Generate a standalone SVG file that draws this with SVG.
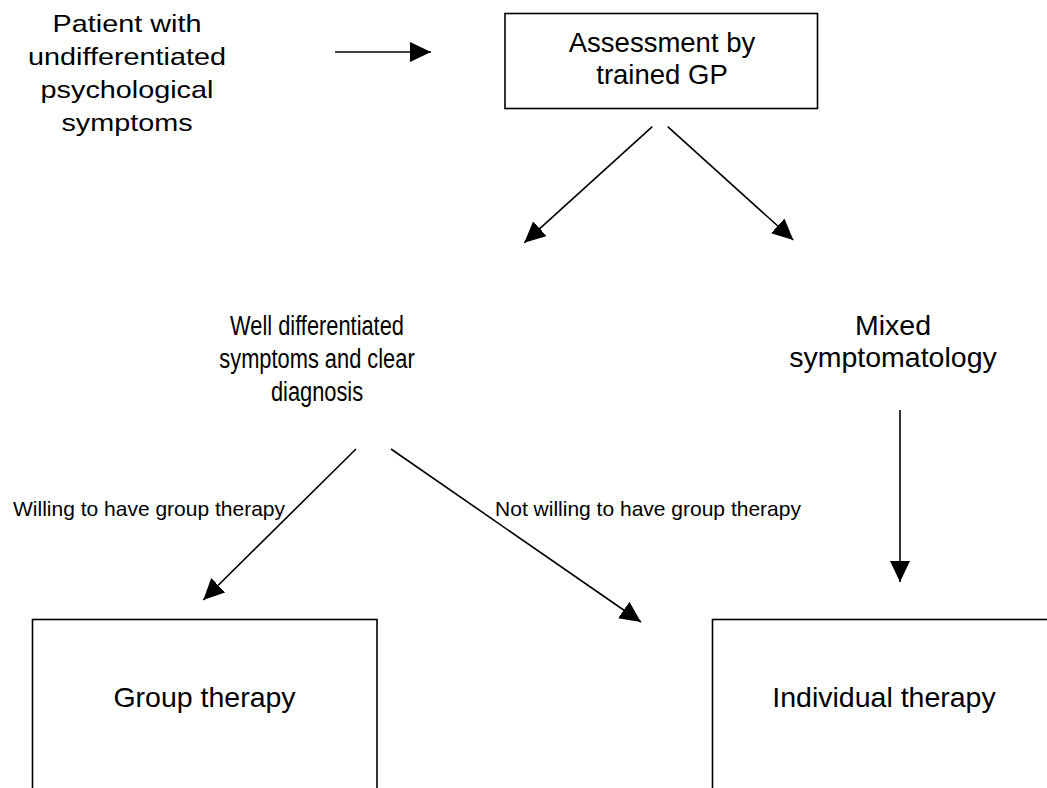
<svg xmlns="http://www.w3.org/2000/svg" width="1047" height="788" viewBox="0 0 1047 788">
<style>
.t{font-family:"Liberation Sans",Arial,sans-serif;fill:#000;text-anchor:middle}
.box{fill:#fff;stroke:#000;stroke-width:1.6}
.con{stroke:#000;stroke-width:1.6;fill:none;marker-end:url(#ah)}
</style>
<defs>
<marker id="ah" markerUnits="userSpaceOnUse" markerWidth="24" markerHeight="24" refX="21" refY="10" orient="auto">
<path d="M0,0 L21,10 L0,20 Z" fill="#000"/>
</marker>
</defs>
<rect width="1047" height="788" fill="#fff"/>
<g id="patient">
<text class="t" font-size="24" transform="matrix(1.2,0,0,1,127,0)"><tspan x="0" y="32">Patient with</tspan><tspan x="0" y="65">undifferentiated</tspan><tspan x="0" y="98">psychological</tspan><tspan x="0" y="131">symptoms</tspan></text>
</g>
<g id="assessment">
<rect class="box" x="505" y="13.5" width="312.5" height="95"/>
<text class="t" font-size="27.5"><tspan x="662" y="52">Assessment by</tspan><tspan x="662" y="84">trained GP</tspan></text>
</g>
<g id="welldiff">
<text class="t" font-size="28" transform="matrix(0.78,0,0,1,317,0)"><tspan x="0" y="335">Well differentiated</tspan><tspan x="0" y="368">symptoms and clear</tspan><tspan x="0" y="401">diagnosis</tspan></text>
</g>
<g id="mixed">
<text class="t" font-size="28.5"><tspan x="893" y="335">Mixed</tspan><tspan x="893" y="367">symptomatology</tspan></text>
</g>
<g id="group">
<rect class="box" x="32.5" y="619.5" width="344.5" height="200"/>
<text class="t" font-size="28.5" x="204.5" y="707">Group therapy</text>
</g>
<g id="individual">
<rect class="box" x="712.5" y="619.5" width="400" height="200"/>
<text class="t" font-size="28.5" x="884" y="707">Individual therapy</text>
</g>
<g id="connectors">
<line class="con" x1="335" y1="52" x2="431" y2="52"/>
<line class="con" x1="652.3" y1="126.7" x2="524.3" y2="242.7"/>
<line class="con" x1="667.7" y1="126.7" x2="793.3" y2="240"/>
<line class="con" x1="356" y1="449" x2="203.3" y2="600"/>
<line class="con" x1="391" y1="449" x2="641" y2="622"/>
<line class="con" x1="900" y1="410" x2="900" y2="582"/>
<text class="t" font-size="21" x="149" y="516">Willing to have group therapy</text>
<text class="t" font-size="21" x="648" y="516">Not willing to have group therapy</text>
</g>
</svg>
